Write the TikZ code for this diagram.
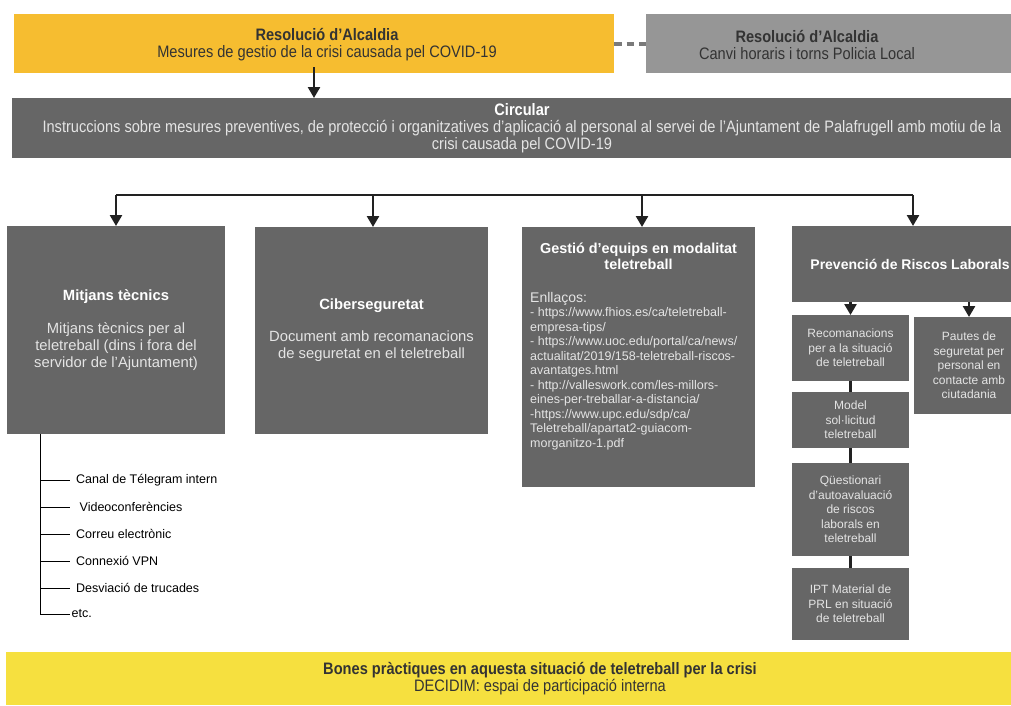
\documentclass[tikz,border=0pt]{standalone}
\usepackage{fontspec}
\setmainfont{Liberation Sans}
\newfontfamily\narrowfont[FakeStretch=0.88]{Liberation Sans}
\usetikzlibrary{arrows.meta,calc,positioning}
\definecolor{cRes}{HTML}{F6BD30}
\definecolor{cPol}{HTML}{969696}
\definecolor{cBox}{HTML}{666666}
\definecolor{cBon}{HTML}{F6E03F}
\definecolor{cInk}{HTML}{333333}
\definecolor{cLine}{HTML}{222222}
\definecolor{cBody}{HTML}{E4E4E4}
\definecolor{cDash}{HTML}{7A7A7A}

\begin{document}
\begin{tikzpicture}[x=1pt,y=-1pt,
   >={Triangle[width=12pt,length=11pt]},
   panel/.style={anchor=north west,inner sep=0pt,outer sep=0pt},
   card/.style={panel,fill=cBox,text=cBody,align=center,
     font=\fontsize{14.8}{17}\selectfont},
   subcard/.style={card,minimum width=117,font=\fontsize{12}{14.5}\selectfont},
   caption/.style={inner sep=0pt,align=center,text=cInk,
     font=\narrowfont\fontsize{16.6}{17}\selectfont},
   head/.style={text=white,font=\bfseries\fontsize{14.4}{16}\selectfont},
   arr/.style={->,line width=2.5pt,draw=cLine},
   joint/.style={line width=3pt,draw=cLine},
   tick/.style={line width=0.8pt,draw=black},
   item/.style={anchor=west,inner xsep=6pt,inner ysep=0pt,
     font=\fontsize{12.5}{14}\selectfont}]
  \useasboundingbox (0,0) rectangle (1011,705);
  % resolucions
  \node[panel,fill=cRes,minimum width=600,minimum height=59] (res) at (14,14) {};
  \node[caption] (resT) at (327,45)
       {\textbf{Resolució d’Alcaldia}\\Mesures de gestio de la crisi causada pel COVID-19};
  \node[panel,fill=cPol,minimum width=365,minimum height=59] (pol) at (646,14) {};
  \node[caption] (polT) at (807,45)
       {\textbf{Resolució d’Alcaldia}\\Canvi horaris i torns Policia Local};
  \draw[cDash,line width=4pt,dash pattern=on 7.5pt off 5pt] (res.east) -- (pol.west);
  % circular
  \node[panel,caption,fill=cBox,text=cBody,minimum width=1020,minimum height=60] (circ) at (12,98)
       {{\color{white}\textbf{Circular}}\\Instruccions sobre mesures preventives, de protecció i organitzatives d’aplicació al personal al servei de l’Ajuntament de Palafrugell amb motiu de la\\crisi causada pel COVID-19};
  \draw[arr] ($(res.south)+(0,-6)$) -- (res.south |- circ.north);
  % quatre blocs
  \node[card,minimum width=218,minimum height=208] (mitjans) at (7,226)
       {{\color{white}\bfseries Mitjans tècnics}\\[16pt]Mitjans tècnics per al\\teletreball (dins i fora del\\servidor de l’Ajuntament)};
  \node[card,minimum width=233,minimum height=207] (ciber) at (255,227)
       {{\color{white}\bfseries Ciberseguretat}\\[15pt]Document amb recomanacions\\de seguretat en el teletreball};
  \node[card,minimum width=233,minimum height=260] (gestio) at (522,227) {};
  \node[head,inner sep=0pt,align=center,anchor=north] (gestioT) at ($(gestio.north)+(0,16)$)
       {Gestió d’equips en modalitat\\teletreball};
  \node[inner sep=0pt,anchor=north west,align=left,text=cBody,
        font=\fontsize{12.5}{14.5}\selectfont] (gestioL) at (530,292)
       {{\fontsize{14}{16}\selectfont Enllaços:}\\
        - https://www.fhios.es/ca/teletreball-\\
        empresa-tips/\\
        - https://www.uoc.edu/portal/ca/news/\\
        actualitat/2019/158-teletreball-riscos-\\
        avantatges.html\\
        - http://valleswork.com/les-millors-\\
        eines-per-treballar-a-distancia/\\
        -https://www.upc.edu/sdp/ca/\\
        Teletreball/apartat2-guiacom-\\
        morganitzo-1.pdf};
  \node[card,head,minimum width=236,minimum height=76,
        font=\bfseries\fontsize{14}{16}\selectfont] (prev) at (792,226)
       {Prevenció de Riscos Laborals};
  % bus
  \coordinate (busL) at (116,195);
  \coordinate (busR) at (913,195);
  \draw[line width=2.8pt,cLine] (busL) -- (busR);
  \foreach \n/\x in {mitjans/116,ciber/373,gestio/642,prev/913}{
    \coordinate (top\n) at (\x,195);
    \draw[arr] (top\n) -- (top\n |- \n.north);
  }
  % prevencio
  \node[subcard,minimum height=66] (reco) at (792,315)
       {Recomanacions\\per a la situació\\de teletreball};
  \node[subcard,minimum height=56] (model) at (792,392)
       {Model\\sol·licitud\\teletreball};
  \node[subcard,minimum height=93] (quest) at (792,463)
       {Qüestionari\\d’autoavaluació\\de riscos\\laborals en\\teletreball};
  \node[subcard,minimum height=72] (ipt) at (792,568)
       {IPT Material de\\PRL en situació\\de teletreball};
  \node[subcard,minimum width=110,minimum height=97] (pautes) at (914,317)
       {Pautes de\\seguretat per\\personal en\\contacte amb\\ciutadania};
  \draw[arr] (reco.north |- prev.south) -- (reco.north);
  \draw[arr] (pautes.north |- prev.south) -- (pautes.north);
  \foreach \a/\b in {reco/model,model/quest,quest/ipt}
    \draw[joint] (\a.south) -- (\b.north);
  % mitjans tecnics
  \coordinate (trunk) at (40.5,434);
  \foreach \i/\y/\t in {1/480/Canal de Télegram intern,2/507/\ Videoconferències,
      3/534/Correu electrònic,4/561/Connexió VPN,5/588/Desviació de trucades}{
    \node[item] (it\i) at (70,\y) {\t};
    \draw[tick] (trunk |- it\i.west) -- (it\i.west);
  }
  \node[item,inner xsep=1.5pt] (it6) at (70,614) {etc.};
  \draw[tick] (trunk) |- (it6.west);
  % bones practiques
  \node[panel,caption,fill=cBon,minimum width=1068,minimum height=53] (bon) at (6,652)
       {\textbf{Bones pràctiques en aquesta situació de teletreball per la crisi}\\DECIDIM: espai de participació interna};
\end{tikzpicture}
\end{document}
